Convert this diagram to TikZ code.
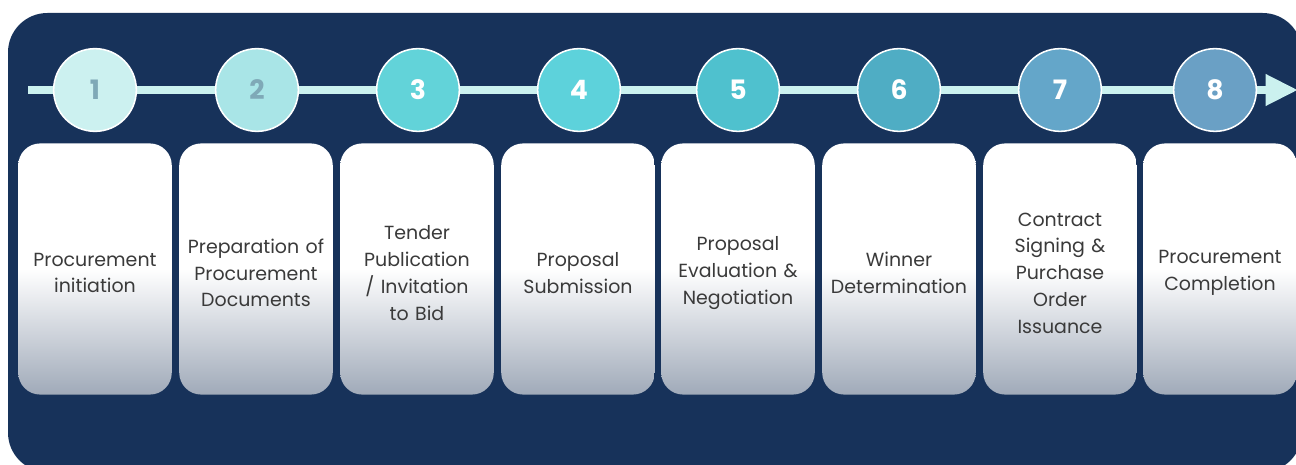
\documentclass[tikz,border=0pt]{standalone}
\usepackage{fontspec}
\setmainfont{Poppins}
\newfontfamily\numfont{Poppins}
\usetikzlibrary{arrows.meta}

\definecolor{navy}{HTML}{17325A}
\definecolor{rail}{HTML}{CBF1EF}
\definecolor{boxgray}{HTML}{A0AAB9}
\definecolor{textgray}{HTML}{3A3A3A}
\definecolor{numgray}{HTML}{7FA9B7}
\definecolor{stepA}{HTML}{CCF1F0}
\definecolor{stepB}{HTML}{A9E5E7}
\definecolor{stepC}{HTML}{62D3D9}
\definecolor{stepD}{HTML}{5DD2DB}
\definecolor{stepE}{HTML}{4FC1CE}
\definecolor{stepF}{HTML}{4FADC4}
\definecolor{stepG}{HTML}{64A6C9}
\definecolor{stepH}{HTML}{6AA0C5}

\tikzset{
  stepbox/.style={rounded corners=15.6pt, minimum width=109.2pt, minimum height=178.6pt,
    inner sep=0pt, top color=white, bottom color=boxgray, middle color=white},
  steptext/.style={text width=108pt, align=center, text=textgray, inner sep=0pt,
    font=\fontsize{13.5pt}{19pt}\selectfont},
  stepdot/.style={circle, draw=white, line width=1.1pt, minimum size=58.8pt,
    inner sep=0pt, font=\numfont\bfseries\fontsize{19pt}{19pt}\selectfont}
}

\begin{document}
\begin{tikzpicture}[x=0.025cm, y=-0.025cm]
  \useasboundingbox (0,0) rectangle (1296,465);
  \clip (0,0) rectangle (1296,465);

  % dark panel
  \fill[navy, rounded corners=28pt] (8,13) rectangle (1302,472);

  % timeline rail
  \coordinate (start) at (28,90);
  \coordinate (tip) at (1298,90);
  \draw[rail, line width=5.7pt, -{Triangle[length=23pt, width=21pt]}] (start) -- (tip);

  % numbered steps
  \node[stepdot, fill=stepA, text=numgray] (c1) at (95,90) {1};
  \node[stepdot, fill=stepB, text=numgray] (c2) at (257,90) {2};
  \node[stepdot, fill=stepC, text=white] (c3) at (418,90) {3};
  \node[stepdot, fill=stepD, text=white] (c4) at (579,90) {4};
  \node[stepdot, fill=stepE, text=white] (c5) at (738,90) {5};
  \node[stepdot, fill=stepF, text=white] (c6) at (899,90) {6};
  \node[stepdot, fill=stepG, text=white] (c7) at (1060,90) {7};
  \node[stepdot, fill=stepH, text=white] (c8) at (1215,90) {8};

  % step cards
  \node[stepbox] (b1) at (95,269) {};
  \node[stepbox] (b2) at (256,269) {};
  \node[stepbox] (b3) at (417,269) {};
  \node[stepbox] (b4) at (578,269) {};
  \node[stepbox] (b5) at (738,269) {};
  \node[stepbox] (b6) at (899,269) {};
  \node[stepbox] (b7) at (1060,269) {};
  \node[stepbox] (b8) at (1220,269) {};

  % step descriptions
  \node[steptext] (t1) at (95,273) {Procurement\\initiation};
  \node[steptext] (t2) at (256,273) {Preparation of\\Procurement\\Documents};
  \node[steptext] (t3) at (417,273) {Tender\\Publication\\/ Invitation\\to Bid};
  \node[steptext] (t4) at (578,273) {Proposal\\Submission};
  \node[steptext] (t5) at (738,273) {Proposal\\Evaluation \&\\Negotiation};
  \node[steptext] (t6) at (899,273) {Winner\\Determination};
  \node[steptext] (t7) at (1060,273) {Contract\\Signing \&\\Purchase\\Order\\Issuance};
  \node[steptext] (t8) at (1220,273) {Procurement\\Completion};
\end{tikzpicture}
\end{document}
